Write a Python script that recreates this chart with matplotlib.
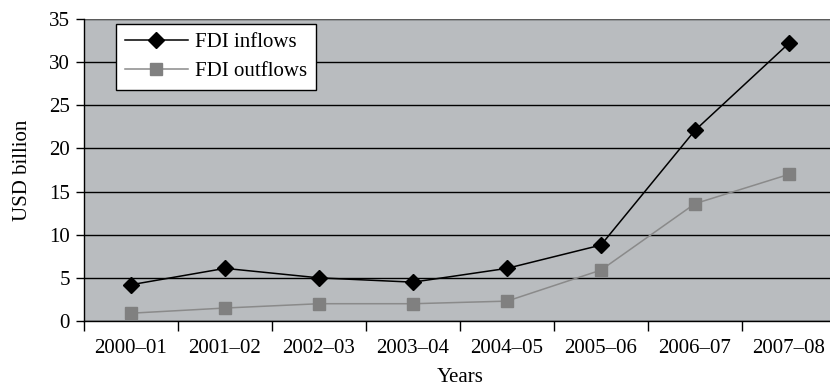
import numpy as np
from matplotlib import pyplot as plt
from matplotlib.ticker import FixedLocator

years = ['2000–01', '2001–02', '2002–03', '2003–04', '2004–05', '2005–06', '2006–07', '2007–08']
fdi_inflows = [4.2, 6.1, 5.0, 4.5, 6.1, 8.8, 22.1, 32.2]
fdi_outflows = [0.9, 1.5, 2.0, 2.0, 2.3, 5.9, 13.6, 17.0]

plt.rcParams['font.family'] = ['Liberation Serif', 'DejaVu Serif']
plt.rcParams['font.size'] = 15

fig = plt.figure(figsize=(8.3, 3.9), dpi=100)
ax = fig.add_axes([0.1012, 0.177, 0.906, 0.774])
ax.set_facecolor('#b9bcbf')

x = np.arange(len(years))
ax.plot(x, fdi_inflows, color='black', lw=1.1, marker='D', ms=8.5,
        markerfacecolor='black', markeredgecolor='black', label='FDI inflows', zorder=4)
ax.plot(x, fdi_outflows, color='#8a8a8a', lw=1.1, marker='s', ms=9,
        markerfacecolor='#808080', markeredgecolor='#808080', label='FDI outflows', zorder=3)

ax.set_xlim(-0.5, len(years) - 0.5)
ax.set_ylim(0, 35)
ax.set_yticks(range(0, 36, 5))
ax.yaxis.grid(True, color='black', lw=1.0)
ax.set_axisbelow(True)

ax.set_xticks(x)
ax.set_xticklabels(years)
ax.xaxis.set_minor_locator(FixedLocator(np.arange(-0.5, len(years), 1.0)))
ax.tick_params(axis='x', which='major', length=0, pad=13)
ax.tick_params(axis='x', which='minor', length=7, width=1.0, direction='out')
ax.tick_params(axis='y', length=6, width=1.0, direction='out', pad=4)

for side in ['top', 'right']:
    ax.spines[side].set_visible(False)
ax.spines['left'].set_linewidth(1.0)
ax.spines['bottom'].set_linewidth(1.0)
ax.axhline(35, color='#6e6e6e', lw=1.2, zorder=2)

ax.set_xlabel('Years', labelpad=7)
ax.set_ylabel('USD billion', labelpad=12)

leg = ax.legend(loc='upper left', bbox_to_anchor=(0.043, 0.985), frameon=True,
                fancybox=False, handlelength=3.0, borderpad=0.42, labelspacing=0.45,
                handletextpad=0.35, borderaxespad=0.0)
leg.get_frame().set_edgecolor('black')
leg.get_frame().set_linewidth(1.0)
leg.get_frame().set_facecolor('white')
leg.get_frame().set_alpha(1.0)

fig.savefig('out.png', dpi=100)
